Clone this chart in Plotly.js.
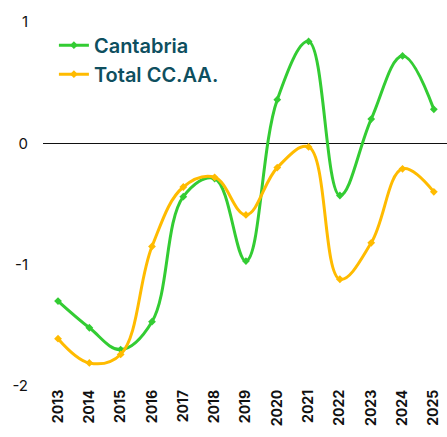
<!DOCTYPE html>
<html>
<head>
<meta charset="utf-8">
<script src="https://cdn.plot.ly/plotly-3.0.1.min.js"></script>
<style>html,body{margin:0;padding:0;background:#fff;}#chart{width:447px;height:437px;}</style>
</head>
<body>
<div id="chart"></div>
<script>
const years = ["2013","2014","2015","2016","2017","2018","2019","2020","2021","2022","2023","2024","2025"];
const cantabria = [-1.30, -1.52, -1.70, -1.47, -0.44, -0.29, -0.97, 0.36, 0.84, -0.43, 0.20, 0.72, 0.28];
const totalCCAA = [-1.61, -1.81, -1.74, -0.85, -0.36, -0.28, -0.59, -0.20, -0.03, -1.12, -0.82, -0.21, -0.40];
const yTicks = [-2, -1, 0, 1];

const mk = (name, y, color) => ({
  x: years, y: y, name: name, type: 'scatter', mode: 'lines+markers',
  line: {color: color, width: 3, shape: 'spline', smoothing: 1.1},
  marker: {color: color, size: 6, symbol: 'diamond'}
});

const data = [
  mk('Cantabria', cantabria, '#33cc33'),
  mk('Total CC.AA.', totalCCAA, '#ffbb00')
];

const layout = {
  width: 447, height: 437,
  margin: {l: 43, r: 0, t: 22, b: 51},
  paper_bgcolor: '#ffffff', plot_bgcolor: '#ffffff',
  font: {family: 'Inter, sans-serif', color: '#111'},
  showlegend: true,
  legend: {
    x: 0.027, y: 0.99, xanchor: 'left', yanchor: 'top',
    font: {family: 'Inter, sans-serif', size: 20, color: '#0e4f5f', weight: 600},
    bgcolor: 'rgba(0,0,0,0)', tracegroupgap: 0, itemwidth: 30
  },
  xaxis: {
    type: 'category', range: [-0.48, 12.42],
    showgrid: false, zeroline: false, showline: false, ticks: '',
    tickangle: -90, tickfont: {size: 14, color: '#111', weight: 700}
  },
  yaxis: {
    range: [-2, 1], tickvals: yTicks, ticktext: yTicks.map(String),
    showgrid: false, zeroline: true, zerolinecolor: '#111', zerolinewidth: 1.5,
    showline: false, ticks: '', ticklabelstandoff: 14,
    tickfont: {size: 15, color: '#111'}
  }
};

Plotly.newPlot('chart', data, layout, {displayModeBar: false, staticPlot: true});
</script>
</body>
</html>
